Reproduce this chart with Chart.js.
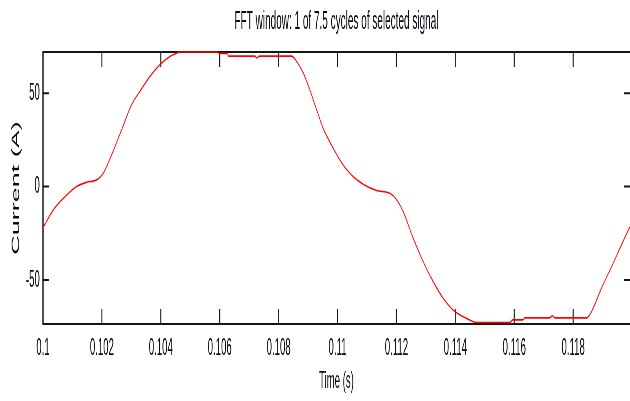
<!DOCTYPE html>
<html><head><meta charset="utf-8">
<script src="https://cdn.jsdelivr.net/npm/chart.js@4.4.1/dist/chart.umd.min.js"></script>
<style>
html,body{margin:0;padding:0;overflow:hidden;background:#fff;width:630px;height:401px;}
#wrap{width:1575px;height:401px;transform:scaleX(0.4);transform-origin:0 0;}
canvas{display:block;}
</style></head><body>
<div id="wrap"><canvas id="c" width="1575" height="401"></canvas></div>
<script>
const titleText = 'FFT window: 1 of 7.5 cycles of selected signal';
const xTitle = 'Time (s)';
const yTitle = 'Current (A)';

const timeS = [
  0.10000, 0.10035, 0.10075, 0.10114, 0.10148, 0.10182, 0.10205, 0.10233, 0.10267, 0.10301,
  0.10329, 0.10363, 0.10397, 0.10431, 0.10448, 0.10465, 0.10594, 0.10598, 0.10625, 0.10630,
  0.10720, 0.10725, 0.10735, 0.10844, 0.10861, 0.10884, 0.10906, 0.10929, 0.10951, 0.10985,
  0.11019, 0.11053, 0.11087, 0.11133, 0.11178, 0.11201, 0.11223, 0.11257, 0.11291, 0.11325,
  0.11359, 0.11393, 0.11438, 0.11472, 0.11585, 0.11595, 0.11629, 0.11636, 0.11721, 0.11729,
  0.11738, 0.11846, 0.11862, 0.11896, 0.11936, 0.11964, 0.11993
];
const currentA = [
  -22.0, -12.5, -5.4, 0.0, 2.3, 3.6, 7.2, 17.0, 30.4, 43.8,
  50.9, 58.9, 65.2, 69.6, 70.9, 72.0, 72.0, 71.2, 71.2, 69.8,
  69.8, 68.8, 69.8, 69.8, 67.0, 60.7, 51.8, 41.1, 31.3, 20.6,
  11.6, 5.4, 1.3, -2.1, -3.6, -7.1, -13.4, -27.7, -40.2, -50.9,
  -59.8, -66.1, -70.5, -72.7, -72.7, -71.3, -71.3, -70.2, -70.2, -69.1,
  -70.2, -70.2, -67.0, -54.4, -41.0, -31.2, -21.4
];

const xTickValues = [0.1, 0.102, 0.104, 0.106, 0.108, 0.11, 0.112, 0.114, 0.116, 0.118];
const xTickLabels = ['0.1', '0.102', '0.104', '0.106', '0.108', '0.11', '0.112', '0.114', '0.116', '0.118'];
const yTickValues = [-50, 0, 50];
const yTickLabels = ['-50', '0', '50'];

const FONT = "'Liberation Sans', Arial, Helvetica, sans-serif";
const TXT = '#0a0a14';

const frameTicks = {
  id: 'frameTicks',
  beforeDatasetsDraw(chart) {
    const {ctx, chartArea: a, scales} = chart;
    const x = scales.x, y = scales.y;
    ctx.save();
    ctx.strokeStyle = '#151515';
    ctx.lineWidth = 2.5;
    xTickValues.forEach(v => {
      const px = x.getPixelForValue(v);
      ctx.beginPath();
      ctx.moveTo(px, a.bottom); ctx.lineTo(px, a.bottom - 15);
      ctx.moveTo(px, a.top); ctx.lineTo(px, a.top + 15);
      ctx.stroke();
    });
    ctx.lineWidth = 2;
    yTickValues.forEach(v => {
      const py = y.getPixelForValue(v);
      ctx.beginPath();
      ctx.moveTo(a.left, py); ctx.lineTo(a.left + 15, py);
      ctx.moveTo(a.right, py); ctx.lineTo(a.right - 15, py);
      ctx.stroke();
    });
    ctx.lineWidth = 2;
    ctx.beginPath();
    ctx.moveTo(a.left, a.top); ctx.lineTo(a.right, a.top);
    ctx.moveTo(a.left, a.bottom); ctx.lineTo(a.right, a.bottom);
    ctx.stroke();
    ctx.lineWidth = 3;
    ctx.beginPath();
    ctx.moveTo(a.left, a.top - 1); ctx.lineTo(a.left, a.bottom + 1);
    ctx.stroke();
    ctx.restore();
  }
};

new Chart(document.getElementById('c'), {
  type: 'line',
  data: {
    datasets: [{
      data: timeS.map((t, i) => ({x: t, y: currentA[i]})),
      borderColor: '#ff0000',
      borderWidth: 1.6,
      pointRadius: 0,
      cubicInterpolationMode: 'monotone',
      fill: false,
      clip: false
    }]
  },
  options: {
    responsive: false,
    devicePixelRatio: 1,
    animation: false,
    layout: {padding: 0, autoPadding: false},
    plugins: {
      legend: {display: false},
      tooltip: {enabled: false},
      title: {
        display: true, text: titleText, fullSize: false, color: TXT,
        font: {family: FONT, size: 25, weight: 'normal'},
        padding: {top: 7, bottom: 15}
      }
    },
    scales: {
      x: {
        type: 'linear', min: 0.1, max: 0.11993,
        afterBuildTicks: s => { s.ticks = xTickValues.map(v => ({value: v})); },
        afterFit: s => { s.height = 77; },
        grid: {display: false, drawTicks: false},
        border: {display: false},
        ticks: {
          callback: (v, i) => xTickLabels[i],
          font: {family: FONT, size: 24}, color: TXT,
          padding: 10, maxRotation: 0, autoSkip: false
        },
        title: {
          display: true, text: xTitle, color: TXT,
          font: {family: FONT, size: 24},
          padding: {top: 0, bottom: 5}
        }
      },
      y: {
        type: 'linear', min: -73.5, max: 72,
        afterBuildTicks: s => { s.ticks = yTickValues.map(v => ({value: v})); },
        afterFit: s => { s.width = 107.5; },
        grid: {display: false, drawTicks: false},
        border: {display: false},
        ticks: {
          callback: (v, i) => yTickLabels[i],
          font: {family: FONT, size: 24}, color: TXT,
          padding: 8, autoSkip: false
        },
        title: {
          display: true, text: yTitle, color: TXT,
          font: {family: FONT, size: 27},
          padding: {top: 24, bottom: 0}
        }
      }
    }
  },
  plugins: [frameTicks]
});
</script>
</body></html>
